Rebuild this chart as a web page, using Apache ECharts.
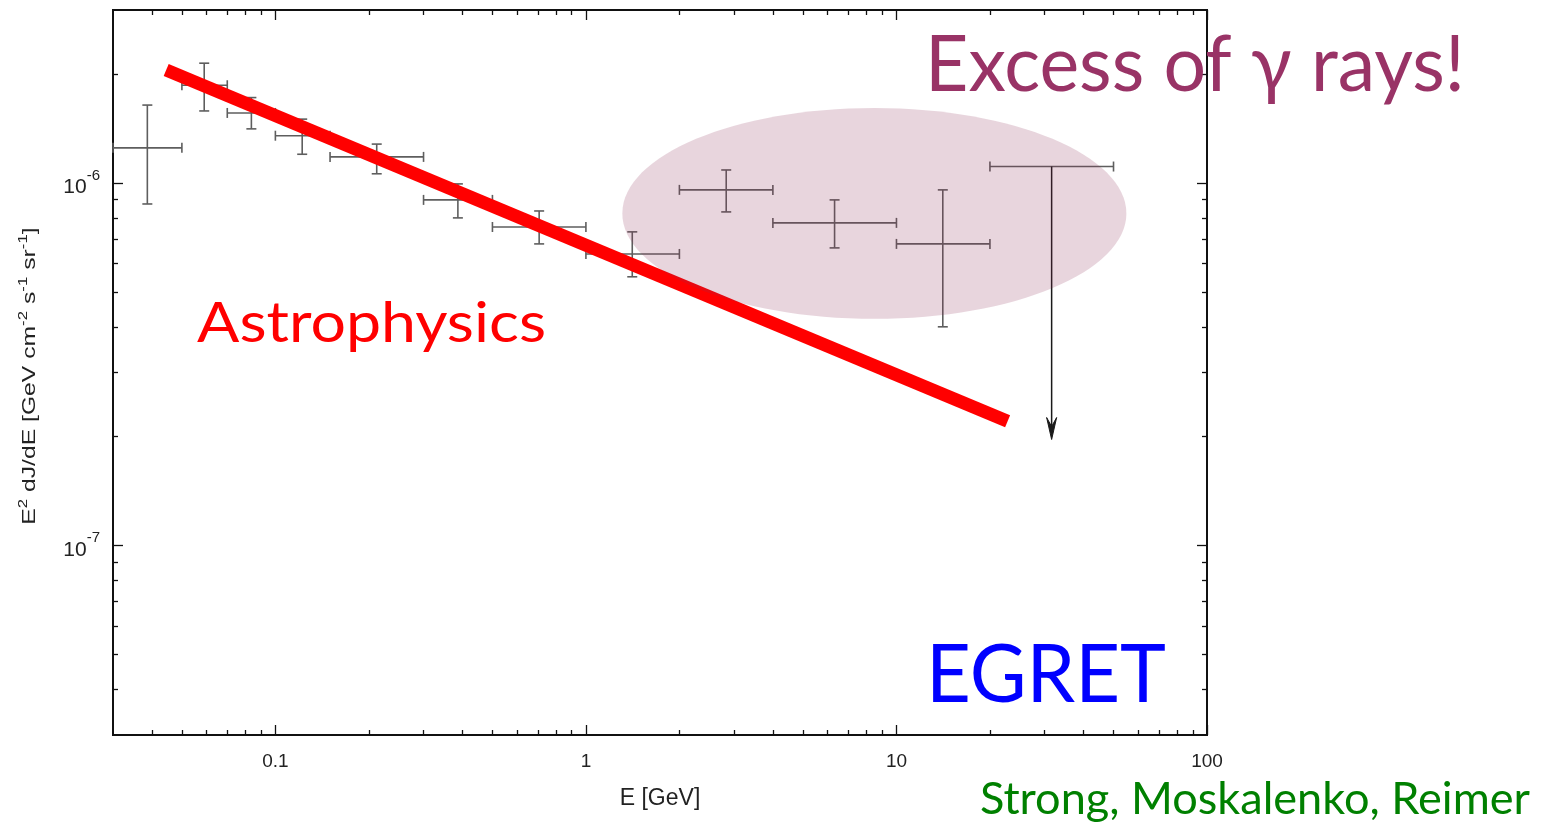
<!DOCTYPE html>
<html><head><meta charset="utf-8">
<script src="https://cdn.jsdelivr.net/npm/echarts@6/dist/echarts.min.js"></script>
<style>html,body{margin:0;padding:0;background:#fff}#c{width:1544px;height:824px}</style>
</head><body><div id="c"></div>
<script>
// ---- Data (EGRET diffuse gamma-ray spectrum) ----
const eLow   = [0.03, 0.05, 0.07, 0.1, 0.15, 0.3, 0.5, 1, 2, 4, 10];
const eHigh  = [0.05, 0.07, 0.1, 0.15, 0.3, 0.5, 1, 2, 4, 10, 20];
const eMid   = [0.0387, 0.059, 0.0837, 0.122, 0.212, 0.387, 0.707, 1.41, 2.83, 6.32, 14.1];
const flux   = [1.25e-6, 1.86e-6, 1.56e-6, 1.35e-6, 1.18e-6, 8.98e-7, 7.56e-7, 6.37e-7, 9.57e-7, 7.76e-7, 6.79e-7];
const fluxLo = [8.75e-7, 1.58e-6, 1.41e-6, 1.20e-6, 1.06e-6, 8.01e-7, 6.79e-7, 5.51e-7, 8.32e-7, 6.62e-7, 4.01e-7];
const fluxHi = [1.64e-6, 2.14e-6, 1.72e-6, 1.50e-6, 1.28e-6, 9.94e-7, 8.37e-7, 7.33e-7, 1.086e-6, 8.98e-7, 9.57e-7];
// upper limit bin
const ulLow = [20], ulHigh = [50], ulMid = [31.6], ulFlux = [1.11e-6], ulArrowTo = [1.96e-7];
// "Astrophysics" model line
const modelE    = [0.0445, 22.8];
const modelFlux = [2.05e-6, 2.2e-7];
// highlighted "excess" region (extent of the ellipse)
const excessE    = [1.31, 55];
const excessFlux = [4.22e-7, 1.61e-6];
// axis ticks
const xMajor = [0.1, 1, 10, 100];
const xMinor = [0.04,0.05,0.06,0.07,0.08,0.09, 0.2,0.3,0.4,0.5,0.6,0.7,0.8,0.9, 2,3,4,5,6,7,8,9, 20,30,40,50,60,70,80,90];
const yMajor = [1e-7, 1e-6];
const yMinor = [4e-8,5e-8,6e-8,7e-8,8e-8,9e-8, 2e-7,3e-7,4e-7,5e-7,6e-7,7e-7,8e-7,9e-7, 2e-6];

const AXF = '"Liberation Sans", Arial, Helvetica, sans-serif';
const HANDF = '"Comic Sans MS", Lato, sans-serif';
const chart = echarts.init(document.getElementById('c'), null, {renderer: 'canvas'});

function fmtNum(v){ return String(Number(v.toPrecision(6))); }

function xAx(pos, ticks, len, main) {
  const a = {
    type: 'log', logBase: 10, min: 0.03, max: 100, position: pos, gridIndex: 0,
    axisLine: {show: true, onZero: false, lineStyle: {color: '#111', width: 2}},
    axisTick: {show: true, inside: true, length: len, customValues: ticks, lineStyle: {color: '#111', width: 1.3}},
    axisLabel: {show: false},
    splitLine: {show: false}, minorTick: {show: false}, minorSplitLine: {show: false}
  };
  if (main) {
    a.axisLabel = {show: true, customValues: xMajor, margin: 17, color: '#222', fontSize: 19, fontFamily: AXF,
      formatter: v => fmtNum(v)};
    a.name = 'E [GeV]'; a.nameLocation = 'middle'; a.nameGap = 52;
    a.nameTextStyle = {color: '#222', fontSize: 23, fontFamily: AXF};
  }
  return a;
}
function yAx(pos, ticks, len, main) {
  const a = {
    type: 'log', logBase: 10, min: 3e-8, max: 3e-6, position: pos, gridIndex: 0,
    axisLine: {show: true, onZero: false, lineStyle: {color: '#111', width: 2}},
    axisTick: {show: true, inside: true, length: len, customValues: ticks, lineStyle: {color: '#111', width: 1.3}},
    axisLabel: {show: false},
    splitLine: {show: false}, minorTick: {show: false}, minorSplitLine: {show: false}
  };
  if (main) {
    a.axisLabel = {show: true, customValues: yMajor, margin: 13, fontFamily: AXF,
      formatter: v => '{b|10}{s|' + Math.round(Math.log10(v)) + '}',
      rich: {
        b: {fontSize: 21, color: '#222', fontFamily: AXF, lineHeight: 30, verticalAlign: 'bottom'},
        s: {fontSize: 15, color: '#222', fontFamily: AXF, lineHeight: 12, verticalAlign: 'top'}
      }};
  }
  return a;
}

const capHalf = 5;
const barStyle = {stroke: '#5e5e5e', lineWidth: 1.6, fill: null};
function seg(x1, y1, x2, y2, st) { return {type: 'line', shape: {x1, y1, x2, y2}, style: st}; }

const errData = eMid.map((e, i) => [e, flux[i], eLow[i], eHigh[i], fluxLo[i], fluxHi[i]]);
const ulData = ulMid.map((e, i) => [e, ulFlux[i], ulLow[i], ulHigh[i], ulArrowTo[i]]);
const modelData = modelE.map((e, i) => [e, modelFlux[i]]);
const excessData = [[excessE[0], excessFlux[0], excessE[1], excessFlux[1]]];

const option = {
  animation: false,
  backgroundColor: '#fff',
  grid: {left: 113, right: 337, top: 10, bottom: 89, containLabel: false, outerBoundsMode: 'none'},
  xAxis: [xAx('bottom', xMajor, 10, true), xAx('bottom', xMinor, 5, false),
          xAx('top', xMajor, 10, false), xAx('top', xMinor, 5, false)],
  yAxis: [yAx('left', yMajor, 10, true), yAx('left', yMinor, 5, false),
          yAx('right', yMajor, 10, false), yAx('right', yMinor, 5, false)],
  series: [
    {
      type: 'custom', name: 'EGRET', xAxisIndex: 0, yAxisIndex: 0, z: 2,
      encode: {x: [0, 2, 3], y: [1, 4, 5]},
      data: errData,
      renderItem: (params, api) => {
        const x = api.value(0), y = api.value(1);
        const pL = api.coord([api.value(2), y]), pR = api.coord([api.value(3), y]);
        const pB = api.coord([x, api.value(4)]), pT = api.coord([x, api.value(5)]);
        return {type: 'group', children: [
          seg(pL[0], pL[1], pR[0], pR[1], barStyle),
          seg(pL[0], pL[1] - capHalf, pL[0], pL[1] + capHalf, barStyle),
          seg(pR[0], pR[1] - capHalf, pR[0], pR[1] + capHalf, barStyle),
          seg(pB[0], pB[1], pT[0], pT[1], barStyle),
          seg(pB[0] - capHalf, pB[1], pB[0] + capHalf, pB[1], barStyle),
          seg(pT[0] - capHalf, pT[1], pT[0] + capHalf, pT[1], barStyle)
        ]};
      }
    },
    {
      type: 'custom', name: 'upper limit', xAxisIndex: 0, yAxisIndex: 0, z: 2,
      encode: {x: [0, 2, 3], y: [1, 4]},
      data: ulData,
      renderItem: (params, api) => {
        const x = api.value(0), y = api.value(1);
        const pL = api.coord([api.value(2), y]), pR = api.coord([api.value(3), y]);
        const pC = api.coord([x, y]), pA = api.coord([x, api.value(4)]);
        const arrowSt = {stroke: '#1a1a1a', lineWidth: 1.5, fill: null};
        return {type: 'group', children: [
          seg(pL[0], pL[1], pR[0], pR[1], barStyle),
          seg(pL[0], pL[1] - capHalf, pL[0], pL[1] + capHalf, barStyle),
          seg(pR[0], pR[1] - capHalf, pR[0], pR[1] + capHalf, barStyle),
          seg(pC[0], pC[1], pA[0], pA[1] - 8, arrowSt),
          {type: 'polygon', shape: {points: [[pA[0], pA[1]], [pA[0] - 5, pA[1] - 22], [pA[0], pA[1] - 13], [pA[0] + 5, pA[1] - 22]]},
           style: {fill: '#1a1a1a', stroke: '#1a1a1a', lineWidth: 1}}
        ]};
      }
    },
    {
      type: 'line', name: 'Astrophysics', xAxisIndex: 0, yAxisIndex: 0, z: 3,
      data: modelData, symbol: 'none', showSymbol: false,
      lineStyle: {color: '#ff0000', width: 13, cap: 'butt'}
    },
    {
      type: 'custom', name: 'excess', xAxisIndex: 0, yAxisIndex: 0, z: 4,
      encode: {x: [0, 2], y: [1, 3]},
      data: excessData,
      renderItem: (params, api) => {
        const p0 = api.coord([api.value(0), api.value(3)]);
        const p1 = api.coord([api.value(2), api.value(1)]);
        return {type: 'ellipse', shape: {cx: (p0[0] + p1[0]) / 2, cy: (p0[1] + p1[1]) / 2,
          rx: Math.abs(p1[0] - p0[0]) / 2, ry: Math.abs(p1[1] - p0[1]) / 2},
          style: {fill: 'rgba(140,45,85,0.2)'}};
      }
    }
  ]
};
chart.setOption(option);

// hand-written style annotations, fitted to target extents
const mctx = document.createElement('canvas').getContext('2d');
function note(text, x0, x1, midY, size, color) {
  const font = size + 'px ' + HANDF;
  mctx.font = font;
  const w = mctx.measureText(text).width;
  return {type: 'text', x: x0, y: midY, scaleX: (x1 - x0) / w, scaleY: 1, z: 1,
    style: {text, font, fill: color, verticalAlign: 'middle', align: 'left'}};
}
// y-axis title (stretched along its length like the original figure)
const yTitle = {
  type: 'text', x: 28, y: 376, rotation: Math.PI / 2, scaleX: 1.3, scaleY: 1, z: 1,
  style: {
    text: '{n|E}{s|2}{n| dJ/dE [GeV cm}{s|-2}{n| s}{s|-1}{n| sr}{s|-1}{n|]}',
    align: 'center', verticalAlign: 'middle',
    rich: {
      n: {fontSize: 19, fill: '#222', fontFamily: AXF, lineHeight: 22, verticalAlign: 'bottom'},
      s: {fontSize: 13, fill: '#222', fontFamily: AXF, lineHeight: 10, verticalAlign: 'top'}
    }
  }
};
chart.setOption({graphic: [
  yTitle,
  note('Excess of \u03b3 rays!', 925, 1465, 66, 78, '#993366'),
  note('Astrophysics', 197, 546, 324, 56, '#ff0000'),
  note('EGRET', 926, 1166, 676, 82, '#0000ff'),
  note('Strong, Moskalenko, Reimer', 980, 1530, 800, 44, '#008000')
]});
</script></body></html>
